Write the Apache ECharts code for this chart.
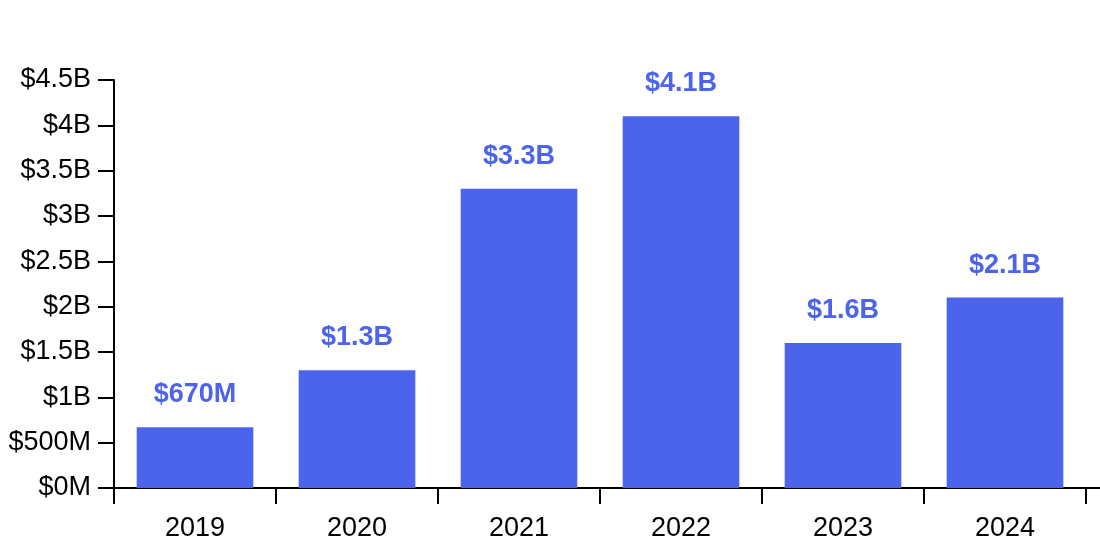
<!DOCTYPE html>
<html>
<head>
<meta charset="utf-8">
<script src="https://cdn.jsdelivr.net/npm/echarts@6/dist/echarts.min.js"></script>
<style>html,body{margin:0;padding:0;background:#fff;}#c{width:1100px;height:550px;}</style>
</head>
<body>
<div id="c"></div>
<script>
const categories = ['2019', '2020', '2021', '2022', '2023', '2024'];
const valuesB = [0.67, 1.3, 3.3, 4.1, 1.6, 2.1];
const barLabels = ['$670M', '$1.3B', '$3.3B', '$4.1B', '$1.6B', '$2.1B'];

function fmtAxis(v) {
  if (v < 1) return '$' + Math.round(v * 1000) + 'M';
  return '$' + (+v.toFixed(1)) + 'B';
}

const chart = echarts.init(document.getElementById('c'), null, {renderer: 'canvas'});
const font = 'Liberation Sans, Arial, Helvetica, sans-serif';
chart.setOption({
  animation: false,
  grid: {left: 114, right: 14, top: 80, bottom: 62, containLabel: false},
  xAxis: {
    type: 'category',
    data: categories,
    boundaryGap: true,
    axisLine: {show: true, lineStyle: {color: '#000', width: 2}},
    axisTick: {show: true, length: 16, alignWithLabel: false, lineStyle: {color: '#000', width: 2}},
    axisLabel: {color: '#000', fontSize: 27, fontFamily: font, margin: 27}
  },
  yAxis: {
    type: 'value',
    min: 0, max: 4.5, interval: 0.5,
    splitLine: {show: false},
    axisLine: {show: true, lineStyle: {color: '#000', width: 2}},
    axisTick: {show: true, length: 16, lineStyle: {color: '#000', width: 2}},
    axisLabel: {color: '#000', fontSize: 27, fontFamily: font, margin: 23, formatter: fmtAxis}
  },
  series: [{
    type: 'bar',
    data: valuesB,
    barWidth: '72%',
    itemStyle: {color: '#4C63EB'},
    label: {
      show: true, position: 'top', distance: 19,
      color: '#4C63EB', fontSize: 27, fontWeight: 'bold', fontFamily: font,
      formatter: p => barLabels[p.dataIndex]
    }
  }]
});
// extend the x axis baseline to the right edge, as in the reference
const y0 = chart.convertToPixel({yAxisIndex: 0}, 0);
chart.setOption({
  graphic: [{type: 'line', shape: {x1: 1086, y1: y0, x2: 1100, y2: y0}, style: {stroke: '#000', lineWidth: 2}}]
});
</script>
</body>
</html>
